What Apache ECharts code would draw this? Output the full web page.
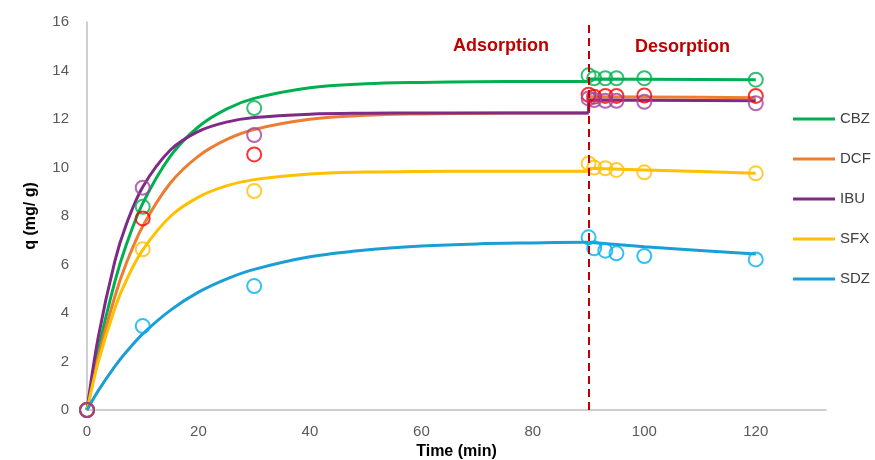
<!DOCTYPE html>
<html>
<head>
<meta charset="utf-8">
<script src="https://cdn.jsdelivr.net/npm/echarts@6/dist/echarts.min.js"></script>
<style>
  html, body { margin: 0; padding: 0; background: #fff; }
  #chart { width: 875px; height: 460px; }
</style>
</head>
<body>
<div id="chart"></div>
<script>
// measured points (min)
const pointTime = [0, 10, 30, 90, 91, 93, 95, 100, 120];
const cbzPoints = [0, 8.38, 12.45, 13.8, 13.68, 13.68, 13.68, 13.68, 13.62];
const dcfPoints = [0, 7.9, 10.54, 13.0, 12.92, 12.95, 12.95, 12.97, 12.95];
const ibuPoints = [0, 9.17, 11.34, 12.85, 12.78, 12.75, 12.75, 12.71, 12.65];
const sfxPoints = [0, 6.63, 9.03, 10.17, 10.0, 9.97, 9.9, 9.8, 9.76];
const sdzPoints = [0, 3.46, 5.11, 7.12, 6.67, 6.57, 6.46, 6.35, 6.21];

// adsorption fit curves
const adsTime = [0, 2, 5, 7, 10, 15, 20, 25, 30, 40, 50, 60, 70, 80, 90];
const cbzAds = [0, 2.44, 5.29, 6.78, 8.52, 10.48, 11.68, 12.41, 12.85, 13.29, 13.45, 13.51, 13.54, 13.55, 13.55];
const dcfAds = [0, 2.15, 4.68, 6.02, 7.58, 9.37, 10.47, 11.15, 11.57, 11.99, 12.15, 12.21, 12.24, 12.25, 12.25];
const ibuAds = [0, 2.98, 6.14, 7.62, 9.2, 10.73, 11.49, 11.87, 12.06, 12.2, 12.24, 12.25, 12.25, 12.25, 12.25];
const sfxAds = [0, 1.96, 4.2, 5.32, 6.6, 7.99, 8.78, 9.24, 9.5, 9.73, 9.81, 9.84, 9.85, 9.85, 9.85];
const sdzAds = [0, 0.79, 1.8, 2.38, 3.14, 4.12, 4.86, 5.4, 5.8, 6.32, 6.6, 6.76, 6.85, 6.89, 6.92];

// desorption fit lines
const desTime = [90, 100, 110, 120];
const cbzDes = [13.65, 13.64, 13.63, 13.62];
const dcfDes = [12.92, 12.91, 12.9, 12.88];
const ibuDes = [12.78, 12.77, 12.76, 12.75];
const sfxDes = [9.97, 9.9, 9.83, 9.76];
const sdzDes = [6.87, 6.73, 6.58, 6.43];

const xTicks = [0, 20, 40, 60, 80, 100, 120];
const switchTime = 90;

const compounds = [
  { name: 'CBZ', line: '#00B050', dot: '#00B050', ads: cbzAds, des: cbzDes, pts: cbzPoints },
  { name: 'DCF', line: '#ED7D31', dot: '#FF0000', ads: dcfAds, des: dcfDes, pts: dcfPoints },
  { name: 'IBU', line: '#7E2A87', dot: '#A043A3', ads: ibuAds, des: ibuDes, pts: ibuPoints },
  { name: 'SFX', line: '#FFC000', dot: '#FFC000', ads: sfxAds, des: sfxDes, pts: sfxPoints },
  { name: 'SDZ', line: '#1A9ED6', dot: '#00B0F0', ads: sdzAds, des: sdzDes, pts: sdzPoints }
];

const font = 'Liberation Sans';
const series = [];
compounds.forEach(c => {
  series.push({
    name: c.name,
    type: 'line',
    data: adsTime.map((t, i) => [t, c.ads[i]]),
    smooth: 0.35,
    showSymbol: false,
    symbol: 'none',
    color: c.line,
    lineStyle: { width: 3, color: c.line },
    z: 2
  });
  series.push({
    name: c.name + ' desorption',
    type: 'line',
    data: [[switchTime, c.ads[c.ads.length - 1]]].concat(desTime.map((t, i) => [t, c.des[i]])),
    showSymbol: false,
    symbol: 'none',
    lineStyle: { width: 3, color: c.line },
    z: 2
  });
});
// circles: IBU drawn last so it sits on top at the origin
[4, 3, 0, 1, 2].map(i => compounds[i]).forEach(c => {
  series.push({
    name: c.name + ' data',
    type: 'scatter',
    data: pointTime.map((t, i) => [t, c.pts[i]]),
    symbol: 'circle',
    symbolSize: 14,
    itemStyle: { color: 'rgba(255,255,255,0)', borderColor: c.dot, borderWidth: 2 },
    z: 3
  });
});
series.push({
  name: 'switch',
  type: 'line',
  data: [],
  markLine: {
    silent: true,
    symbol: 'none',
    label: { show: false },
    lineStyle: { color: '#C00000', type: [8, 5], width: 2 },
    data: [{ xAxis: switchTime }]
  }
});

const chart = echarts.init(document.getElementById('chart'));
chart.setOption({
  animation: false,
  textStyle: { fontFamily: font },
  grid: { left: 87, right: 49, top: 22, bottom: 50, outerBoundsMode: 'none', containLabel: false },
  legend: {
    data: compounds.map(c => c.name),
    orient: 'vertical',
    left: 788,
    top: 106,
    icon: 'rect',
    itemWidth: 42,
    itemHeight: 3,
    itemGap: 24,
    textStyle: { fontSize: 15, color: '#404040', fontFamily: font, lineHeight: 16 }
  },
  xAxis: {
    type: 'value',
    min: 0,
    max: 132.6,
    interval: 20,
    name: 'Time (min)',
    nameLocation: 'middle',
    nameGap: 33,
    nameTextStyle: { fontSize: 16, fontWeight: 'bold', color: '#000' },
    splitLine: { show: false },
    axisTick: { show: false },
    axisLine: { lineStyle: { color: '#BFBFBF', width: 1.5 } },
    axisLabel: {
      fontSize: 15, color: '#595959', margin: 14, showMaxLabel: false,
      formatter: v => (xTicks.includes(v) ? String(v) : '')
    }
  },
  yAxis: {
    type: 'value',
    min: 0,
    max: 16,
    interval: 2,
    name: 'q (mg/ g)',
    nameLocation: 'middle',
    nameGap: 48,
    nameTextStyle: { fontSize: 16, fontWeight: 'bold', color: '#000' },
    splitLine: { show: false },
    axisTick: { show: false },
    axisLine: { show: true, lineStyle: { color: '#BFBFBF', width: 1.5 } },
    axisLabel: { fontSize: 15, color: '#595959', margin: 18 }
  },
  graphic: [
    { type: 'text', left: 453, top: 37, style: { text: 'Adsorption', fill: '#C00000', font: 'bold 18px ' + font } },
    { type: 'text', left: 635, top: 38, style: { text: 'Desorption', fill: '#C00000', font: 'bold 18px ' + font } }
  ],
  series: series
});
</script>
</body>
</html>
